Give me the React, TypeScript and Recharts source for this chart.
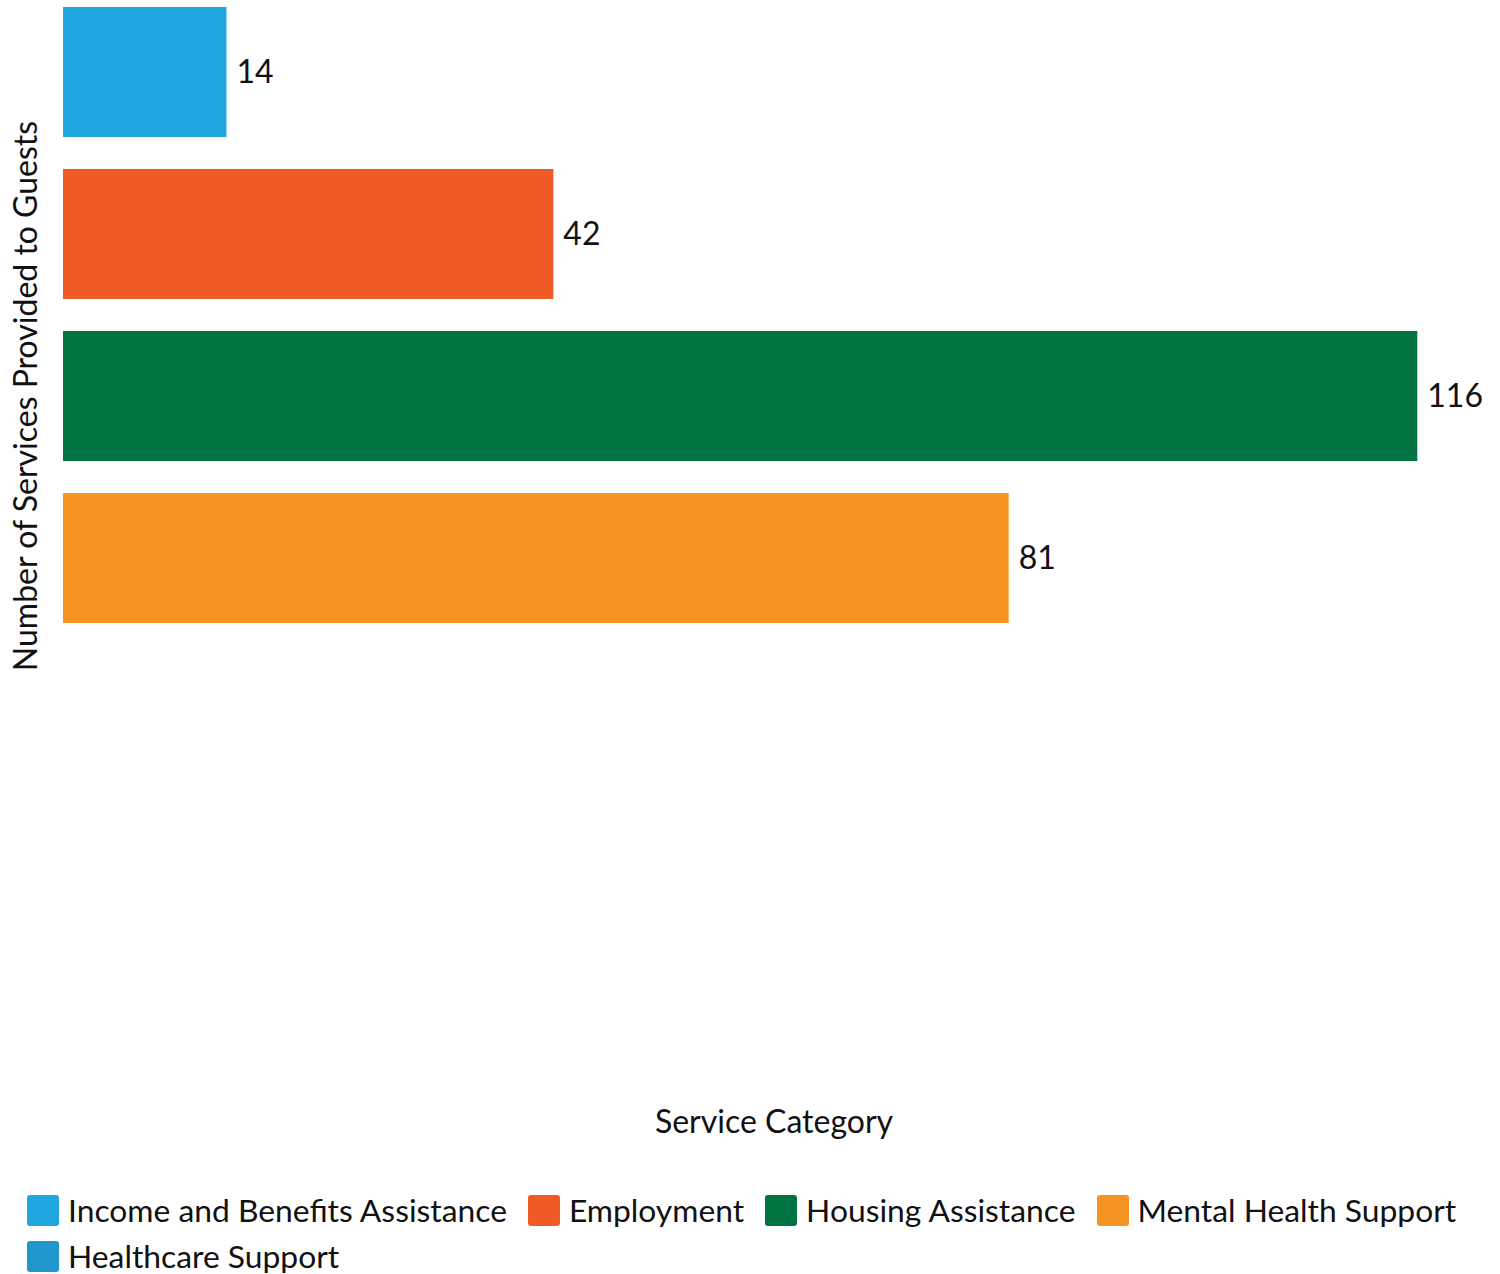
import { Bar, BarChart, Cell, LabelList, XAxis, YAxis } from "recharts";

const categories = [
  "Income and Benefits Assistance",
  "Employment",
  "Housing Assistance",
  "Mental Health Support",
  "Healthcare Support",
];
const services: (number | null)[] = [14, 42, 116, 81, null];
const colors = ["#22a6e0", "#f05a24", "#007340", "#f59422", "#1f96cc"];

const xTitle = "Service Category";
const yTitle = "Number of Services Provided to Guests";

const data = categories.map((name, i) => ({ name, value: services[i] }));

const FONT = "Lato, 'Open Sans', sans-serif";

export default function App() {
  return (
    <div style={{ position: "absolute", left: 0, top: -9, width: 1500, height: 1283, fontFamily: FONT, background: "#fff" }}>
      <BarChart
        width={1500}
        height={1150}
        data={data}
        layout="vertical"
        margin={{ top: 0, right: 15, bottom: 0, left: 0 }}
      >
        <XAxis
          type="number"
          domain={[0, 121.8]}
          tick={false}
          axisLine={false}
          tickLine={false}
          height={340}
          label={{
            content: (props: any) => {
              const vb = props.viewBox;
              return (
                <text
                  x={vb.x + vb.width / 2}
                  y={vb.y + 332}
                  textAnchor="middle"
                  fontFamily={FONT}
                  fontSize={32}
                  fill="#111"
                >
                  {xTitle}
                </text>
              );
            },
          }}
        />
        <YAxis
          type="category"
          dataKey="name"
          width={63}
          tick={false}
          axisLine={false}
          tickLine={false}
          label={{
            content: (props: any) => {
              const vb = props.viewBox;
              const cx = 24;
              const cy = vb.y + vb.height / 2;
              return (
                <text
                  x={cx}
                  y={cy}
                  transform={`rotate(-90 ${cx} ${cy})`}
                  textAnchor="middle"
                  dominantBaseline="central"
                  fontFamily={FONT}
                  fontSize={32}
                  fill="#111"
                >
                  {yTitle}
                </text>
              );
            },
          }}
        />
        <Bar dataKey="value" barSize={130} isAnimationActive={false}>
          {data.map((d, i) => (
            <Cell key={d.name} fill={colors[i]} />
          ))}
          <LabelList
            dataKey="value"
            position="right"
            offset={10}
            fill="#111"
            fontSize={32}
            fontFamily={FONT}
          />
        </Bar>
      </BarChart>

      <div
        style={{
          position: "absolute",
          left: 27,
          top: 1200,
          width: 1460,
          display: "flex",
          flexWrap: "wrap",
          columnGap: 21,
          rowGap: 8,
          fontSize: 31.8,
          color: "#111",
        }}
      >
        {categories.map((name, i) => (
          <div key={name} style={{ display: "flex", alignItems: "center", height: 38 }}>
            <span
              style={{
                display: "inline-block",
                width: 32,
                height: 31,
                borderRadius: 3,
                background: colors[i],
                marginRight: 9,
              }}
            />
            <span>{name}</span>
          </div>
        ))}
      </div>
    </div>
  );
}
